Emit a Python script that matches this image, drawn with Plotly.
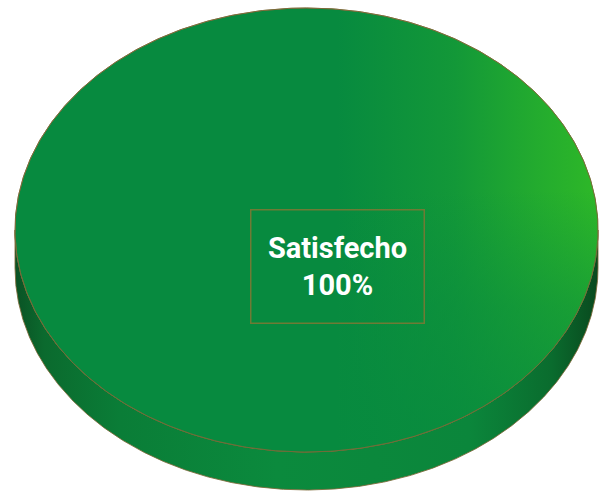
import numpy as np
import plotly.graph_objects as go

# Data
categories = ["Satisfecho"]
values = [100]
slice_colors = ["#078a3f"]

# Canvas / geometry of the tilted disc (pixel units)
W, H = 605, 493
CX, CY = 306.5, 230.0
RX, RY = 291.5, 222.0
DEPTH = 38.0
EDGE = "rgba(125,105,55,0.85)"

total = float(sum(values))


def arc(a0, a1, dy=0.0, n=500):
    t = np.linspace(a0, a1, n)
    return CX + RX * np.cos(t), CY + dy + RY * np.sin(t)


fig = go.Figure()

start = -np.pi / 2
slices = []
for cat, val, col in zip(categories, values, slice_colors):
    frac = val / total
    a0, a1 = start, start + 2 * np.pi * frac
    slices.append((cat, val, frac, a0, a1, col))
    start = a1

# Visible side walls (front half of the disc, angles 0..pi in screen space)
for cat, val, frac, a0, a1, col in slices:
    for k in (0.0, 2 * np.pi, -2 * np.pi):
        lo, hi = max(a0, 0.0 + k), min(a1, np.pi + k)
        if hi <= lo:
            continue
        xt, yt = arc(lo, hi)
        xb, yb = arc(hi, lo, dy=DEPTH)
        fig.add_trace(go.Scatter(
            x=np.concatenate([xt, xb, xt[:1]]),
            y=np.concatenate([yt, yb, yt[:1]]),
            mode="lines", fill="toself",
            line=dict(color=EDGE, width=1),
            fillgradient=dict(
                type="horizontal", start=CX - RX, stop=CX + RX,
                colorscale=[[0.0, "#0a5224"], [0.05, "#0b6a2e"], [0.18, "#0a7d37"],
                            [0.45, "#0b8a3d"], [0.78, "#0b863b"], [0.92, "#0a6c2e"],
                            [1.0, "#09491e"]],
            ),
            hoverinfo="skip", showlegend=False,
        ))

# Top faces
for cat, val, frac, a0, a1, col in slices:
    xs, ys = arc(a0, a1)
    if frac < 1:
        xs = np.concatenate([[CX], xs, [CX]])
        ys = np.concatenate([[CY], ys, [CY]])
    fig.add_trace(go.Scatter(
        x=xs, y=ys, mode="lines", fill="toself", fillcolor=col,
        line=dict(color=EDGE, width=1),
        hoverinfo="skip", showlegend=False,
    ))
    # light sheen toward the upper right
    fig.add_trace(go.Scatter(
        x=xs, y=ys, mode="none", fill="toself",
        fillgradient=dict(
            type="horizontal", start=CX + 30, stop=CX + RX,
            colorscale=[[0.0, "rgba(46,184,40,0)"], [0.45, "rgba(46,184,40,0.3)"],
                        [0.75, "rgba(46,184,40,0.7)"], [1.0, "rgba(46,184,40,1)"]],
        ),
        hoverinfo="skip", showlegend=False,
    ))
    # fade the sheen out toward the front
    fig.add_trace(go.Scatter(
        x=xs, y=ys, mode="none", fill="toself",
        fillgradient=dict(
            type="vertical", start=CY - 40, stop=CY + RY - 30,
            colorscale=[[0.0, "rgba(7,138,63,0)"], [0.5, "rgba(7,138,63,0.5)"],
                        [1.0, "rgba(7,138,63,0.8)"]],
        ),
        hoverinfo="skip", showlegend=False,
    ))
    fig.add_trace(go.Scatter(
        x=xs, y=ys, mode="lines", line=dict(color=EDGE, width=1),
        hoverinfo="skip", showlegend=False,
    ))

# Data label
for cat, val, frac, a0, a1, col in slices:
    mid = (a0 + a1) / 2
    r = 0.0 if frac >= 1 else 0.6
    fig.add_annotation(
        x=CX + 31 + r * RX * np.cos(mid), y=CY + 36 + r * RY * np.sin(mid),
        text=f"<b>{cat}<br>{val / total * 100:.0f}%</b>",
        showarrow=False,
        font=dict(family="Roboto", size=29, color="white"),
        bordercolor="#6f7a35", borderwidth=1.5, borderpad=0,
        width=172, height=112, align="center", valign="middle",
    )

fig.update_layout(
    width=W, height=H,
    margin=dict(l=0, r=0, t=0, b=0),
    paper_bgcolor="white", plot_bgcolor="white",
    xaxis=dict(range=[0, W], visible=False, fixedrange=True),
    yaxis=dict(range=[H, 0], visible=False, fixedrange=True),
    showlegend=False,
)

fig.write_html("out.html")
